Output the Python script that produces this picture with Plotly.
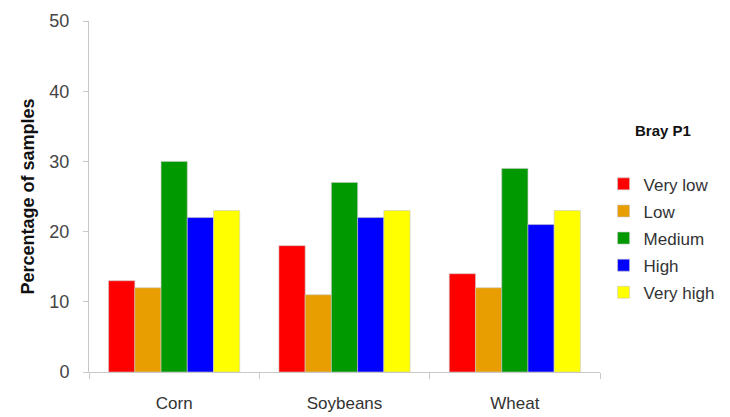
import plotly.graph_objects as go

crops = ["Corn", "Soybeans", "Wheat"]
levels = ["Very low", "Low", "Medium", "High", "Very high"]
values = {
    "Very low": [13, 18, 14],
    "Low": [12, 11, 12],
    "Medium": [30, 27, 29],
    "High": [22, 22, 21],
    "Very high": [23, 23, 23],
}
colors = ["#FF0000", "#E89E00", "#009A00", "#0000FF", "#FFFF00"]
y_ticks = [0, 10, 20, 30, 40, 50]

FONT = "Liberation Sans, Arial, sans-serif"

fig = go.Figure()
for lvl, col in zip(levels, colors):
    fig.add_trace(go.Bar(
        x=crops, y=values[lvl], name=lvl, legendgroup=lvl,
        marker=dict(color=col, line=dict(color="rgba(200,200,200,0.6)", width=1)),
    ))

tick_font = dict(family=FONT, size=18, color="#444444")

fig.update_layout(
    width=730, height=417,
    margin=dict(l=89, r=130, t=21, b=45, autoexpand=False),
    plot_bgcolor="white", paper_bgcolor="white",
    barmode="group", bargap=0.23, bargroupgap=0,
    font=tick_font,
    showlegend=True,
    legend=dict(
        x=1.007, y=0.586, xanchor="left", yanchor="top",
        font=dict(family=FONT, size=17, color="#333333"),
        tracegroupgap=2, itemwidth=30,
    ),
    annotations=[dict(
        text="<b>Bray P1</b>", xref="paper", yref="paper",
        x=1.123, y=0.689, xanchor="center", yanchor="middle", showarrow=False,
        font=dict(family=FONT, size=15, color="#111111"),
    )],
)
fig.update_yaxes(
    range=[0, 50], tickvals=y_ticks, showgrid=False, zeroline=False,
    showline=True, linecolor="#C8C8C8", linewidth=1,
    ticks="outside", ticklen=5, tickcolor="#C8C8C8",
    tickfont=tick_font, ticklabelstandoff=10,
    title=dict(text="<b>Percentage of samples</b>", font=dict(family=FONT, size=18, color="#111111"), standoff=10),
)
fig.update_xaxes(
    showgrid=False, showline=True, linecolor="#C8C8C8", linewidth=1,
    ticks="outside", tickson="boundaries", ticklen=6, tickcolor="#C8C8C8",
    tickfont=dict(family=FONT, size=17, color="#333333"), ticklabelstandoff=16,
)

fig.write_html("out.html")
